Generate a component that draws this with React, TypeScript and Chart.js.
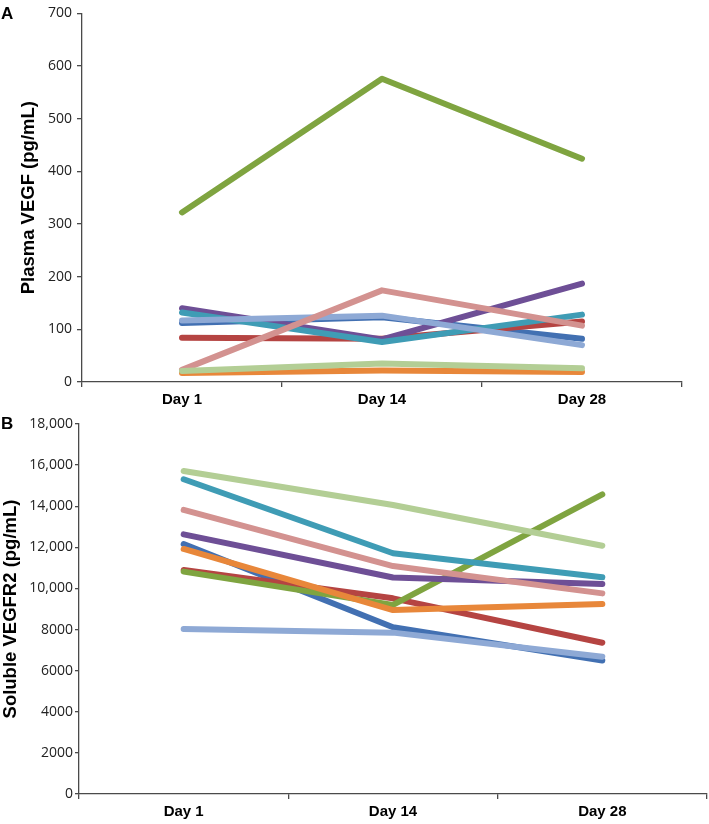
import React, { useEffect, useRef } from "react";
import { Chart, registerables } from "chart.js";

Chart.register(...registerables);

const categories = ["Day 1", "Day 14", "Day 28"];

const seriesColors = ["#4270B2", "#B54442", "#7FA440", "#6E4F96", "#3F9CB5", "#E8873A", "#8EA9D5", "#D39290", "#B3CE95"];

// Panel A: Plasma VEGF (pg/mL)
const vegfBlue = [112, 123, 82];
const vegfRed = [84, 82, 115];
const vegfGreen = [322, 576, 424];
const vegfPurple = [140, 81, 187];
const vegfTeal = [132, 76, 128];
const vegfOrange = [17, 22, 19];
const vegfLightBlue = [117, 126, 70];
const vegfPink = [23, 174, 107];
const vegfLightGreen = [21, 35, 26];

// Panel B: Soluble VEGFR2 (pg/mL)
const sBlue = [12160, 8110, 6490];
const sRed = [10900, 9520, 7360];
const sGreen = [10820, 9200, 14580];
const sPurple = [12630, 10530, 10220];
const sTeal = [15310, 11710, 10540];
const sOrange = [11920, 8950, 9240];
const sLightBlue = [8030, 7850, 6680];
const sPink = [13820, 11090, 9760];
const sLightGreen = [15710, 14060, 12080];

const vegfSeries = [vegfBlue, vegfRed, vegfGreen, vegfPurple, vegfTeal, vegfOrange, vegfLightBlue, vegfPink, vegfLightGreen];
const sSeries = [sBlue, sRed, sGreen, sPurple, sTeal, sOrange, sLightBlue, sPink, sLightGreen];

const AXIS_COLOR = "#4a4a4a";

function makeConfig(opts: {
  series: number[][];
  yMax: number;
  yStep: number;
  title: string;
  yWidth: number;
  xHeight: number;
  padding: any;
  titlePad: number;
  tickLen: number;
  tickPad: number;
  fmt: (v: number) => string;
}) {
  const n = opts.series.length;
  return {
    type: "line" as const,
    data: {
      labels: categories,
      datasets: opts.series.map((d, i) => ({
        data: d,
        order: n - i,
        borderColor: seriesColors[i],
        backgroundColor: seriesColors[i],
        borderWidth: 6,
        borderCapStyle: "round" as const,
        borderJoinStyle: "round" as const,
        pointRadius: 0,
        tension: 0,
        fill: false,
      })),
    },
    options: {
      responsive: false,
      animation: false as const,
      layout: { padding: opts.padding },
      plugins: { legend: { display: false }, tooltip: { enabled: false }, title: { display: false } },
      scales: {
        x: {
          offset: true,
          grid: {
            offset: true,
            drawOnChartArea: false,
            drawTicks: true,
            tickLength: 5,
            color: AXIS_COLOR,
            lineWidth: 1.3,
          },
          border: { display: true, color: AXIS_COLOR, width: 1.3 },
          ticks: {
            color: "#000",
            padding: 4,
            maxRotation: 0,
            font: { family: "'Liberation Sans', Arial, sans-serif", size: 15, weight: "bold" as const },
          },
          afterFit: (scale: any) => {
            scale.height = opts.xHeight;
          },
        },
        y: {
          min: 0,
          max: opts.yMax,
          grid: {
            drawOnChartArea: false,
            drawTicks: true,
            tickLength: opts.tickLen,
            color: AXIS_COLOR,
            lineWidth: 1.3,
          },
          border: { display: true, color: AXIS_COLOR, width: 1.3 },
          ticks: {
            stepSize: opts.yStep,
            color: "#222",
            padding: opts.tickPad,
            font: { family: "'Open Sans', 'Noto Sans', sans-serif", size: 14 },
            callback: (v: any) => opts.fmt(Number(v)),
          },
          title: {
            display: true,
            text: opts.title,
            color: "#000",
            padding: { top: opts.titlePad, bottom: 0 },
            font: { family: "'Liberation Sans', Arial, sans-serif", size: 18.5, weight: "bold" as const },
          },
          afterFit: (scale: any) => {
            scale.width = opts.yWidth;
          },
        },
      },
    },
  };
}

function ChartCanvas({ config, width, height, top }: { config: any; width: number; height: number; top: number }) {
  const ref = useRef<HTMLCanvasElement | null>(null);
  useEffect(() => {
    if (!ref.current) return;
    const chart = new Chart(ref.current, config);
    return () => chart.destroy();
  }, [config]);
  return (
    <canvas
      ref={ref}
      width={width}
      height={height}
      style={{ position: "absolute", left: 0, top, width, height }}
    />
  );
}

const configA = makeConfig({
  series: vegfSeries,
  yMax: 700,
  yStep: 100,
  title: "Plasma VEGF (pg/mL)",
  yWidth: 82,
  xHeight: 28,
  padding: { top: 10.5, right: 27, left: 0, bottom: 0 },
  titlePad: 18,
  tickLen: 5,
  tickPad: 5,
  fmt: (v) => String(v),
});

const configB = makeConfig({
  series: sSeries,
  yMax: 18000,
  yStep: 2000,
  title: "Soluble VEGFR2 (pg/mL)",
  yWidth: 79,
  xHeight: 30,
  padding: { top: 14, right: 2, left: 0, bottom: 0 },
  titlePad: 0,
  tickLen: 4,
  tickPad: 2,
  fmt: (v) => (v >= 10000 ? v.toLocaleString("en-US") : String(v)),
});

const letterStyle: React.CSSProperties = {
  position: "absolute",
  left: 1,
  fontFamily: "'Liberation Sans', Arial, sans-serif",
  fontWeight: "bold",
  fontSize: 17,
  lineHeight: "17px",
  color: "#000",
};

export default function App() {
  return (
    <div style={{ position: "absolute", left: 0, top: 0, width: 709, height: 824, background: "#fff" }}>
      <ChartCanvas config={configA} width={709} height={410} top={0} />
      <ChartCanvas config={configB} width={709} height={414} top={410} />
      <div style={{ ...letterStyle, top: 5 }}>A</div>
      <div style={{ ...letterStyle, top: 415 }}>B</div>
    </div>
  );
}
